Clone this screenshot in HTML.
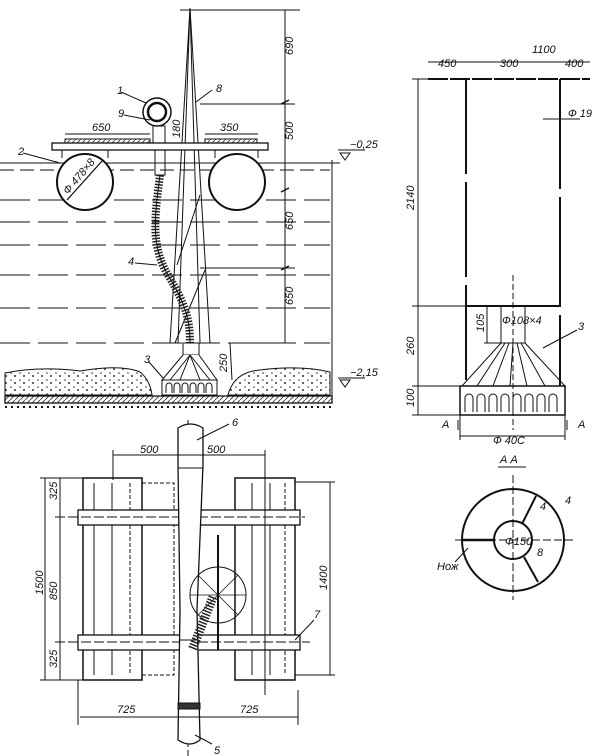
<!DOCTYPE html>
<html><head><meta charset="utf-8"><style>
html,body{margin:0;padding:0;background:#fff;}
svg{display:block;}
text{font-family:"Liberation Sans",sans-serif;font-style:italic;font-size:11px;fill:#111;stroke:none;}
</style></head><body>
<svg width="602" height="756" viewBox="0 0 602 756" xmlns="http://www.w3.org/2000/svg" stroke="#111" fill="none" stroke-width="1">
<defs>
<pattern id="h" width="5" height="5" patternUnits="userSpaceOnUse"><path d="M0 5L5 0" stroke="#333" stroke-width="0.8"/></pattern>
<pattern id="d" width="9" height="7" patternUnits="userSpaceOnUse"><circle cx="2" cy="2" r="0.8" fill="#333" stroke="none"/><circle cx="6" cy="5" r="1" fill="#333" stroke="none"/></pattern>
</defs>
<g stroke-dasharray="30,8">
<line x1="0" y1="170" x2="330" y2="170" stroke-dasharray="14,6"/>
<line x1="0" y1="200" x2="330" y2="200"/>
<line x1="0" y1="222" x2="330" y2="222"/>
<line x1="0" y1="245" x2="330" y2="245"/>
<line x1="0" y1="275" x2="330" y2="275"/>
<line x1="0" y1="308" x2="330" y2="308"/>
<line x1="0" y1="343" x2="330" y2="343"/>
</g>
<line x1="0" y1="163" x2="340" y2="163"/>
<line x1="190" y1="8" x2="170" y2="343"/>
<line x1="190" y1="8" x2="210" y2="343"/>
<line x1="190" y1="8" x2="178" y2="343"/>
<line x1="190" y1="8" x2="200" y2="343"/>
<line x1="180" y1="10" x2="300" y2="10"/>
<line x1="205" y1="270" x2="175" y2="343"/>
<line x1="200" y1="195" x2="177" y2="265"/>
<rect x="52" y="143" width="216" height="7" fill="#fff" stroke-width="1.3"/>
<rect x="65" y="139" width="85" height="4" fill="url(#h)"/>
<rect x="205" y="139" width="52" height="4" fill="url(#h)"/>
<line x1="65" y1="134" x2="150" y2="134"/><line x1="205" y1="134" x2="258" y2="134"/>
<circle cx="85" cy="182" r="28" stroke-width="2" fill="#fff"/>
<circle cx="237" cy="182" r="28" stroke-width="2" fill="#fff"/>
<line x1="67" y1="200" x2="103" y2="160" stroke-width="1.3"/>
<line x1="62" y1="150" x2="62" y2="158"/><line x1="108" y1="150" x2="108" y2="158"/>
<line x1="215" y1="150" x2="215" y2="158"/><line x1="258" y1="150" x2="258" y2="158"/>
<circle cx="157" cy="112" r="14" stroke-width="1.5"/><circle cx="157" cy="112" r="9" stroke-width="2.5"/>
<rect x="153" y="126" width="12" height="17"/>
<rect x="155" y="150" width="10" height="25"/>
<path d="M160 175 C 155 215,150 245,168 275 S 190 320,190 343" stroke="#222" stroke-width="8" stroke-dasharray="1.5,1.5"/>
<path d="M160 175 C 155 215,150 245,168 275 S 190 320,190 343" stroke="#111" stroke-width="1"/>
<rect x="183" y="343" width="16" height="12"/>
<path d="M183 355 L162 380 L217 380 L199 355" fill="#fff"/>
<rect x="162" y="380" width="55" height="15" fill="#fff"/>
<path d="M166 393v-7a3 3 0 0 1 6 0v7M174 393v-7a3 3 0 0 1 6 0v7M182 393v-7a3 3 0 0 1 6 0v7M190 393v-7a3 3 0 0 1 6 0v7M198 393v-7a3 3 0 0 1 6 0v7M206 393v-7a3 3 0 0 1 6 0v7"/>
<line x1="190" y1="355" x2="170" y2="380"/><line x1="190" y1="355" x2="180" y2="380"/><line x1="190" y1="355" x2="200" y2="380"/><line x1="190" y1="355" x2="210" y2="380"/>
<path d="M5 373 Q40 366 80 371 Q120 364 140 372 Q150 380 152 395 L5 395Z" fill="url(#d)"/>
<path d="M228 395 Q234 372 260 370 Q300 365 330 372 L330 395Z" fill="url(#d)"/>
<rect x="5" y="396" width="327" height="7" fill="url(#h)" stroke-width="1.3"/>
<line x1="5" y1="407" x2="332" y2="407" stroke-dasharray="2,4" stroke-width="2"/>
<line x1="332" y1="160" x2="332" y2="400"/>
<line x1="285" y1="10" x2="285" y2="343"/>
<g stroke-width="1.5"><line x1="281" y1="104" x2="289" y2="100"/><line x1="281" y1="192" x2="289" y2="188"/><line x1="281" y1="270" x2="289" y2="266"/></g>
<line x1="200" y1="104" x2="295" y2="104"/><line x1="200" y1="268" x2="295" y2="268"/>
<line x1="230" y1="343" x2="232" y2="380"/><line x1="230" y1="343" x2="290" y2="343"/>
<text x="293" y="55" transform="rotate(-90 293 55)">690</text>
<text x="293" y="140" transform="rotate(-90 293 140)">500</text>
<text x="293" y="230" transform="rotate(-90 293 230)">650</text>
<text x="293" y="305" transform="rotate(-90 293 305)">650</text>
<text x="227" y="372" transform="rotate(-90 227 372)">250</text>
<text x="180" y="138" transform="rotate(-90 180 138)" font-size="9">180</text>
<text x="92" y="131">650</text><text x="220" y="131">350</text>
<text x="68" y="195" transform="rotate(-50 68 195)" font-size="9">Ф 478×8</text>
<text x="117" y="94">1</text><text x="118" y="117">9</text><text x="216" y="92">8</text>
<text x="18" y="155">2</text><text x="128" y="265">4</text><text x="144" y="363">3</text>
<line x1="121" y1="92" x2="146" y2="103"/><line x1="124" y1="115" x2="150" y2="120"/><line x1="212" y1="90" x2="196" y2="102"/>
<line x1="23" y1="153" x2="60" y2="163"/><line x1="135" y1="263" x2="157" y2="265"/><line x1="149" y1="362" x2="163" y2="378"/>
<path d="M340 153h10l-5 7z"/><line x1="338" y1="150" x2="365" y2="150"/><text x="350" y="148" font-size="10">−0,25</text>
<path d="M340 380h10l-5 7z"/><line x1="338" y1="378" x2="365" y2="378"/><text x="350" y="376" font-size="10">−2,15</text>

<line x1="428" y1="79" x2="590" y2="79" stroke-width="2" stroke-dasharray="20,2"/>
<line x1="428" y1="62" x2="590" y2="62"/>
<text x="532" y="53" font-size="10">1100</text><text x="438" y="67" font-size="10">450</text><text x="500" y="67" font-size="10">300</text><text x="565" y="67" font-size="10">400</text>
<line x1="466" y1="79" x2="466" y2="386" stroke-width="2" stroke-dasharray="95,8"/>
<line x1="560" y1="79" x2="560" y2="386" stroke-width="2" stroke-dasharray="110,8"/>
<line x1="543" y1="119" x2="580" y2="119"/><text x="568" y="117" font-size="9">Ф 19</text>
<line x1="466" y1="306" x2="560" y2="306" stroke-width="2"/>
<line x1="412" y1="306" x2="466" y2="306"/><line x1="412" y1="79" x2="430" y2="79"/>
<line x1="513" y1="275" x2="513" y2="430" stroke-dasharray="6,3"/>
<rect x="501" y="306" width="24" height="37"/>
<text x="502" y="324" font-size="7">Ф108×4</text>
<line x1="484" y1="343" x2="501" y2="343"/><line x1="487" y1="306" x2="487" y2="343"/>
<text x="484" y="332" transform="rotate(-90 484 332)" font-size="9">105</text>
<path d="M501 343 L462 386 L565 386 L525 343"/>
<line x1="505" y1="343" x2="477" y2="386"/><line x1="509" y1="343" x2="493" y2="386"/><line x1="513" y1="343" x2="510" y2="386"/><line x1="517" y1="343" x2="527" y2="386"/><line x1="521" y1="343" x2="545" y2="386"/>
<rect x="460" y="386" width="105" height="29" stroke-width="1.5"/>
<path d="M465 412v-14a4 4 0 0 1 8 0v14M477 412v-14a4 4 0 0 1 8 0v14M489 412v-14a4 4 0 0 1 8 0v14M501 412v-14a4 4 0 0 1 8 0v14M513 412v-14a4 4 0 0 1 8 0v14M525 412v-14a4 4 0 0 1 8 0v14M537 412v-14a4 4 0 0 1 8 0v14M549 412v-14a4 4 0 0 1 8 0v14"/>
<line x1="418" y1="79" x2="418" y2="415"/><line x1="412" y1="386" x2="460" y2="386"/><line x1="412" y1="415" x2="460" y2="415"/>
<text x="414" y="210" transform="rotate(-90 414 210)" font-size="10">2140</text>
<text x="414" y="355" transform="rotate(-90 414 355)" font-size="10">260</text>
<text x="414" y="407" transform="rotate(-90 414 407)" font-size="10">100</text>
<line x1="543" y1="348" x2="577" y2="330"/><text x="578" y="330">3</text>
<line x1="460" y1="415" x2="460" y2="440"/><line x1="565" y1="415" x2="565" y2="440"/><line x1="460" y1="436" x2="565" y2="436"/>
<text x="442" y="428">А</text><text x="578" y="428">А</text>
<path d="M458 420v10M567 420v10"/>
<text x="493" y="444" font-size="10">Ф 40С</text>
<text x="500" y="463" font-size="10">А  А</text><line x1="498" y1="467" x2="526" y2="467"/>
<circle cx="513" cy="540" r="51" stroke-width="2"/>
<circle cx="513" cy="540" r="19" stroke-width="2"/>
<line x1="513" y1="475" x2="513" y2="600" stroke-dasharray="8,3"/>
<line x1="455" y1="540" x2="575" y2="540" stroke-dasharray="8,3"/>
<line x1="463" y1="540" x2="494" y2="540" stroke-width="2.5"/>
<line x1="522" y1="524" x2="536" y2="496" stroke-width="2"/>
<line x1="524" y1="557" x2="538" y2="582" stroke-width="2"/>
<text x="505" y="545" font-size="8">Ф150</text><text x="537" y="556" font-size="8">8</text>
<text x="540" y="510" font-size="8">4</text><text x="565" y="504" font-size="8">4</text>
<line x1="468" y1="548" x2="455" y2="562"/><text x="437" y="570" font-size="10">Нож</text>

<line x1="188" y1="420" x2="188" y2="756" stroke-dasharray="8,3"/>
<rect x="83" y="478" width="59" height="202" stroke-width="1.5"/>
<rect x="142" y="483" width="32" height="192" stroke-dasharray="4,2"/>
<line x1="94" y1="483" x2="94" y2="675"/><line x1="112" y1="483" x2="112" y2="675"/><line x1="130" y1="483" x2="130" y2="675" stroke-dasharray="4,2"/>
<rect x="235" y="478" width="60" height="202" stroke-width="1.5"/>
<line x1="252" y1="483" x2="252" y2="675"/><line x1="270" y1="483" x2="270" y2="675"/><line x1="285" y1="483" x2="285" y2="675" stroke-dasharray="4,2"/>
<rect x="78" y="510" width="222" height="15" fill="#fff" stroke-width="1.3"/>
<rect x="78" y="635" width="222" height="15" fill="#fff" stroke-width="1.3"/>
<line x1="55" y1="517" x2="305" y2="517" stroke-dasharray="10,3"/><line x1="55" y1="642" x2="310" y2="642" stroke-dasharray="10,3"/>
<path d="M178 428 Q190 420 203 428 L203 465 L197 610 L200 740 Q190 748 178 740 L180 610 L178 465Z" fill="#fff" stroke-width="1.3"/>
<line x1="178" y1="468" x2="203" y2="468"/><line x1="180" y1="640" x2="198" y2="640"/>
<rect x="178" y="703" width="22" height="6" fill="#333"/>
<circle cx="218" cy="595" r="28"/>
<g stroke-width="0.8"><line x1="190" y1="595" x2="246" y2="595"/><line x1="218" y1="567" x2="218" y2="623"/><line x1="198" y1="575" x2="238" y2="615"/><line x1="198" y1="615" x2="238" y2="575"/></g>
<line x1="218" y1="535" x2="218" y2="650" stroke-width="2"/>
<path d="M213 597 L192 650" stroke="#222" stroke-width="9" stroke-dasharray="1.5,1.5"/>
<line x1="113" y1="455" x2="265" y2="455"/>
<line x1="113" y1="450" x2="113" y2="480"/><line x1="265" y1="450" x2="265" y2="695"/>
<text x="140" y="453">500</text><text x="207" y="453">500</text>
<line x1="80" y1="717" x2="298" y2="717"/><text x="117" y="713">725</text><text x="240" y="713">725</text>
<line x1="298" y1="690" x2="298" y2="725"/><line x1="78" y1="680" x2="78" y2="725"/>
<line x1="45" y1="478" x2="45" y2="680"/><line x1="60" y1="478" x2="60" y2="680"/>
<line x1="40" y1="478" x2="83" y2="478"/><line x1="40" y1="680" x2="83" y2="680"/>
<line x1="330" y1="482" x2="330" y2="675"/><line x1="295" y1="482" x2="335" y2="482"/><line x1="295" y1="675" x2="335" y2="675"/>
<text x="43" y="595" transform="rotate(-90 43 595)" font-size="10">1500</text>
<text x="57" y="600" transform="rotate(-90 57 600)" font-size="10">850</text>
<text x="57" y="500" transform="rotate(-90 57 500)" font-size="10">325</text>
<text x="57" y="668" transform="rotate(-90 57 668)" font-size="10">325</text>
<text x="327" y="590" transform="rotate(-90 327 590)" font-size="10">1400</text>
<text x="232" y="426">6</text><line x1="229" y1="424" x2="197" y2="440"/>
<text x="314" y="618">7</text><line x1="314" y1="620" x2="295" y2="640"/>
<text x="214" y="754">5</text><line x1="212" y1="744" x2="195" y2="735"/>
</svg>
</body></html>
